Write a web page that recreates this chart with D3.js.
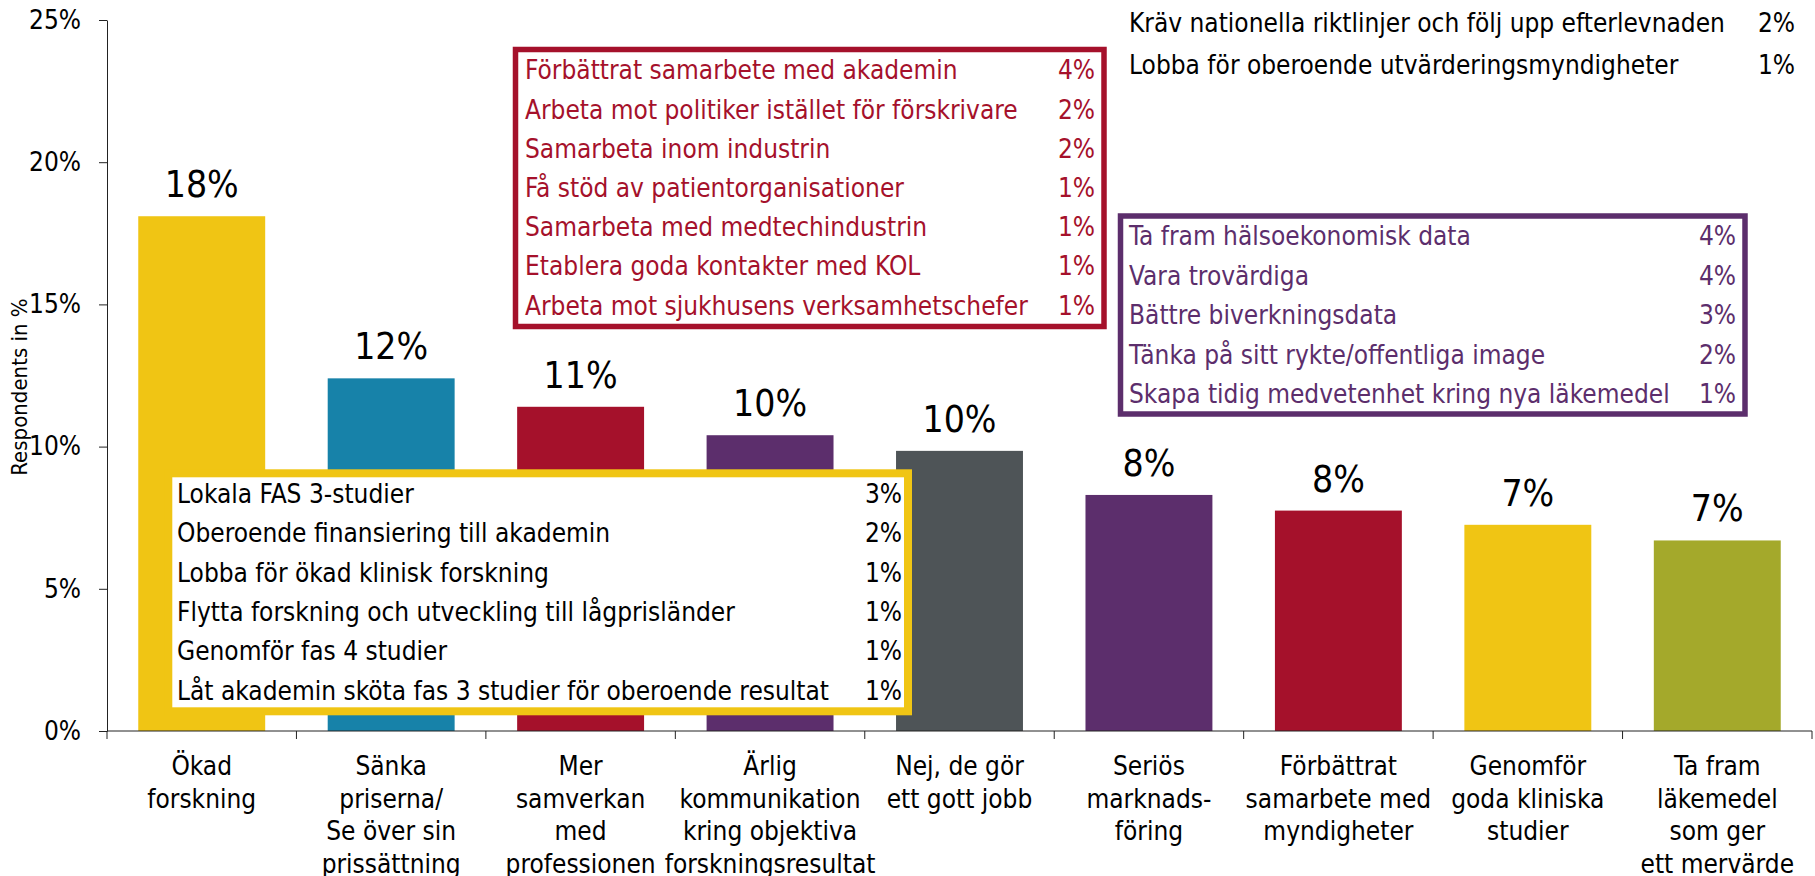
<!DOCTYPE html>
<html>
<head>
<meta charset="utf-8">
<title>Respondents</title>
<script src="https://d3js.org/d3.v7.min.js"></script>
<style>
  body { margin: 0; background: #fff; }
  svg { display: block; font-family: "DejaVu Sans Condensed", "DejaVu Sans", sans-serif; font-stretch: condensed; }
</style>
</head>
<body>
<svg width="1815" height="876"></svg>
<script>

// ---- data ----
var categories = [
  ["Ökad", "forskning"],
  ["Sänka", "priserna/", "Se över sin", "prissättning"],
  ["Mer", "samverkan", "med", "professionen"],
  ["Ärlig", "kommunikation", "kring objektiva", "forskningsresultat"],
  ["Nej, de gör", "ett gott jobb"],
  ["Seriös", "marknads-", "föring"],
  ["Förbättrat", "samarbete med", "myndigheter"],
  ["Genomför", "goda kliniska", "studier"],
  ["Ta fram", "läkemedel", "som ger", "ett mervärde"]
];
var values = [18.1, 12.4, 11.4, 10.4, 9.85, 8.3, 7.75, 7.25, 6.7];
var valueLabels = ["18%", "12%", "11%", "10%", "10%", "8%", "8%", "7%", "7%"];
var yTicks = [0, 5, 10, 15, 20, 25];

var researchItems = [
  ["Lokala FAS 3-studier", "3%"],
  ["Oberoende finansiering till akademin", "2%"],
  ["Lobba för ökad klinisk forskning", "1%"],
  ["Flytta forskning och utveckling till lågprisländer", "1%"],
  ["Genomför fas 4 studier", "1%"],
  ["Låt akademin sköta fas 3 studier för oberoende resultat", "1%"]
];
var cooperationItems = [
  ["Förbättrat samarbete med akademin", "4%"],
  ["Arbeta mot politiker istället för förskrivare", "2%"],
  ["Samarbeta inom industrin", "2%"],
  ["Få stöd av patientorganisationer", "1%"],
  ["Samarbeta med medtechindustrin", "1%"],
  ["Etablera goda kontakter med KOL", "1%"],
  ["Arbeta mot sjukhusens verksamhetschefer", "1%"]
];
var communicationItems = [
  ["Ta fram hälsoekonomisk data", "4%"],
  ["Vara trovärdiga", "4%"],
  ["Bättre biverkningsdata", "3%"],
  ["Tänka på sitt rykte/offentliga image", "2%"],
  ["Skapa tidig medvetenhet kring nya läkemedel", "1%"]
];
var otherItems = [
  ["Kräv nationella riktlinjer och följ upp efterlevnaden", "2%"],
  ["Lobba för oberoende utvärderingsmyndigheter", "1%"]
];

// ---- styles ----
var YELLOW = "#f0c514", TEAL = "#1782a9", RED = "#a5112b",
    PURPLE = "#5c2e6c", GREY = "#4e5457", OLIVE = "#a4a92b";
var barColors = [YELLOW, TEAL, RED, PURPLE, GREY, PURPLE, RED, YELLOW, OLIVE];

var svg = d3.select("svg");

var x = d3.scaleBand()
    .domain(d3.range(categories.length))
    .range([107, 1812])
    .paddingInner(0.33)
    .paddingOuter(0.165);

var y = d3.scaleLinear()
    .domain([0, 25])
    .range([731, 20]);

// bars
svg.append("g").selectAll("rect")
  .data(values)
  .enter().append("rect")
    .attr("x", function(d, i) { return x(i); })
    .attr("y", function(d) { return y(d); })
    .attr("width", x.bandwidth())
    .attr("height", function(d) { return y(0) - y(d); })
    .attr("fill", function(d, i) { return barColors[i]; });

// value labels
svg.append("g").selectAll("text")
  .data(values)
  .enter().append("text")
    .attr("x", function(d, i) { return x(i) + x.bandwidth() / 2; })
    .attr("y", function(d) { return y(d) - 19; })
    .attr("text-anchor", "middle")
    .attr("font-size", 37)
    .text(function(d, i) { return valueLabels[i]; });

// y axis
var yAxis = svg.append("g")
    .attr("transform", "translate(107,0)")
    .call(d3.axisLeft(y)
      .tickValues(yTicks)
      .tickSize(8)
      .tickSizeOuter(0)
      .tickPadding(18)
      .tickFormat(function(d) { return d + "%"; }));
yAxis.selectAll("text").attr("font-size", 26).attr("fill", "#000").style("font-family", null);
yAxis.attr("font-family", null);
yAxis.selectAll("path, line").attr("stroke", "#222");

svg.append("text")
    .attr("transform", "translate(27,387) rotate(-90)")
    .attr("text-anchor", "middle")
    .attr("font-size", 22)
    .text("Respondents in %");

// x axis (ticks between categories)
var step = x.step();
var xAxis = svg.append("g");
xAxis.append("line")
    .attr("x1", x.range()[0]).attr("x2", x.range()[1])
    .attr("y1", y(0)).attr("y2", y(0))
    .attr("stroke", "#222");
xAxis.selectAll(".tick")
  .data(d3.range(categories.length + 1))
  .enter().append("line")
    .attr("x1", function(i) { return x.range()[0] + i * step; })
    .attr("x2", function(i) { return x.range()[0] + i * step; })
    .attr("y1", y(0)).attr("y2", y(0) + 8)
    .attr("stroke", "#222");

xAxis.selectAll(".cat")
  .data(categories)
  .enter().append("text")
    .attr("text-anchor", "middle")
    .attr("font-size", 26)
  .selectAll("tspan")
  .data(function(d, i) { return d.map(function(t) { return {t: t, i: i}; }); })
  .enter().append("tspan")
    .attr("x", function(d) { return x(d.i) + x.bandwidth() / 2; })
    .attr("y", function(d, j) { return 775 + j * 32.5; })
    .text(function(d) { return d.t; });

// annotation boxes
function box(items, opt) {
  var g = svg.append("g");
  if (opt.stroke) {
    g.append("rect")
      .attr("x", opt.x).attr("y", opt.y)
      .attr("width", opt.w).attr("height", opt.h)
      .attr("fill", "#fff")
      .attr("stroke", opt.stroke)
      .attr("stroke-width", opt.sw);
  }
  var row = g.selectAll("g.row")
    .data(items)
    .enter().append("g");
  row.append("text")
    .attr("x", opt.tx)
    .attr("y", function(d, i) { return opt.ty + i * opt.dy; })
    .attr("font-size", 26)
    .attr("fill", opt.color)
    .text(function(d) { return d[0]; });
  row.append("text")
    .attr("x", opt.px)
    .attr("y", function(d, i) { return opt.ty + i * opt.dy; })
    .attr("text-anchor", "end")
    .attr("font-size", 26)
    .attr("fill", opt.color)
    .text(function(d) { return d[1]; });
}

box(researchItems, {x: 168.3, y: 473.3, w: 739.7, h: 238, stroke: YELLOW, sw: 8,
  tx: 177, px: 902, ty: 503, dy: 39.3, color: "#000"});
box(cooperationItems, {x: 515.5, y: 49.5, w: 588.5, h: 277, stroke: RED, sw: 5.5,
  tx: 525, px: 1095, ty: 79.3, dy: 39.2, color: RED});
box(communicationItems, {x: 1120.5, y: 216, w: 624.5, h: 198, stroke: PURPLE, sw: 5.5,
  tx: 1129, px: 1736, ty: 245, dy: 39.5, color: PURPLE});
box(otherItems, {tx: 1129, px: 1795, ty: 32, dy: 41.8, color: "#000"});

</script>
</body>
</html>
